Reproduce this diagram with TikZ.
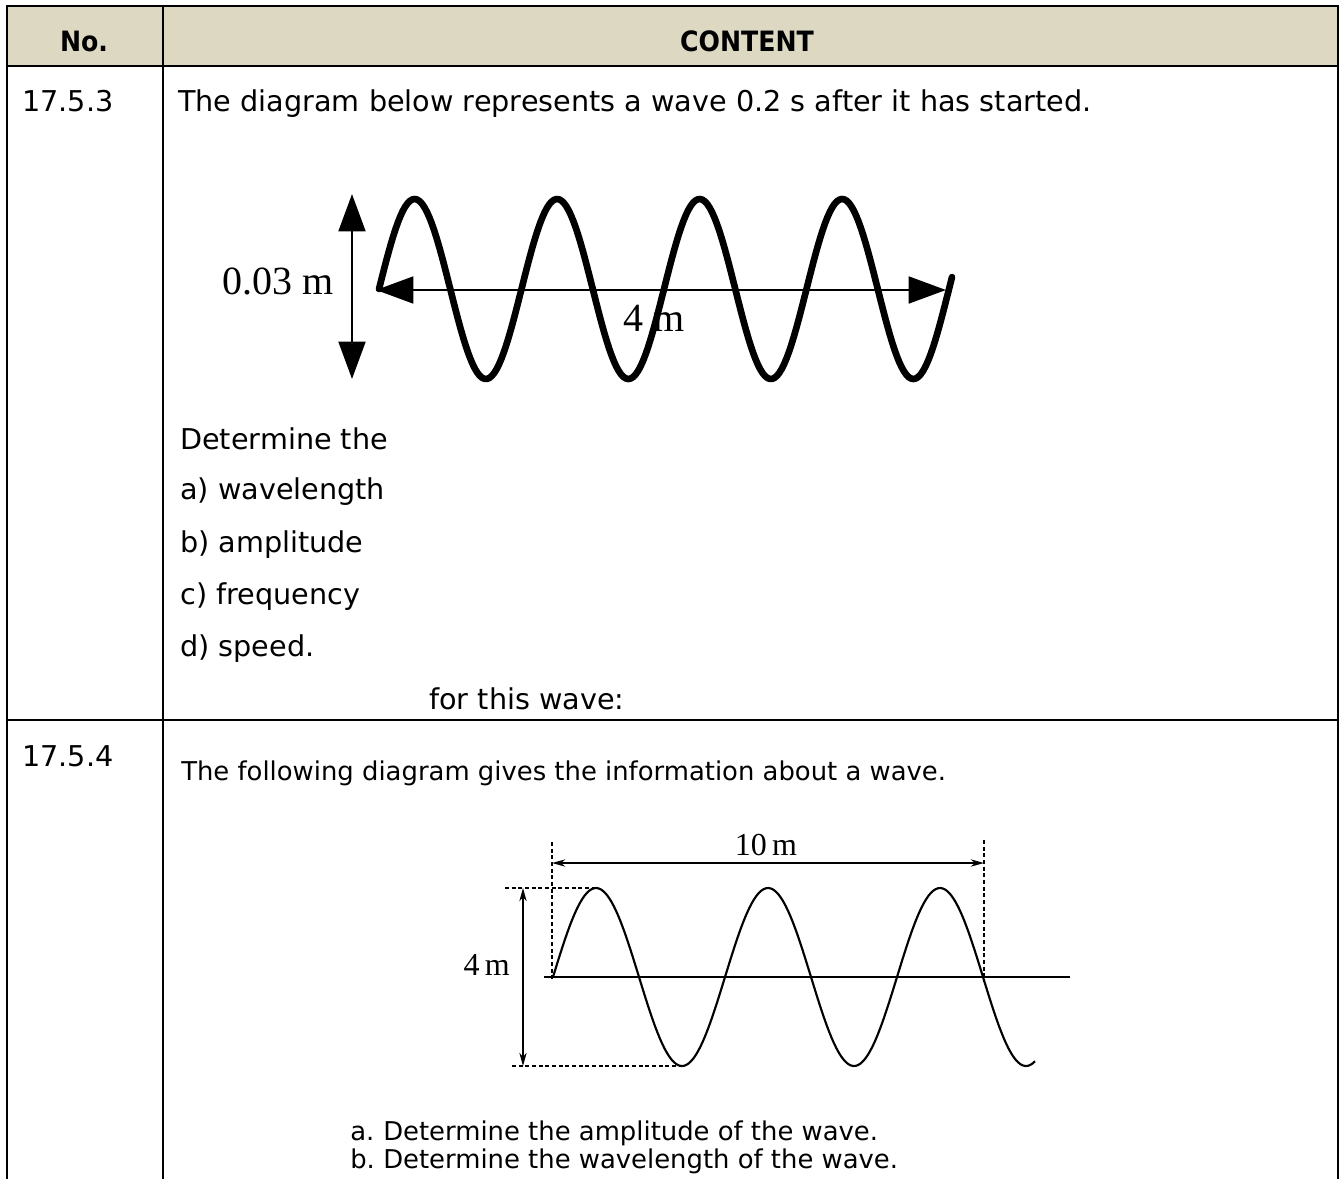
\documentclass[tikz,border=0pt]{standalone}
\usepackage{fontspec}
\setmainfont{DejaVu Sans}[BoldFeatures={FakeStretch=0.9}]
\newfontfamily\wavefont{Liberation Serif}
\usepackage{tikz}
\usetikzlibrary{arrows.meta, calc}

\definecolor{headbeige}{HTML}{DDD8C2}

\tikzset{
  rule/.style={line width=2pt, line cap=rect},
  headtext/.style={inner sep=0pt, font=\fontsize{21}{25}\selectfont\bfseries},
  bodytext/.style={anchor=base west, inner sep=0pt, font=\fontsize{21.5}{26}\selectfont},
  smalltext/.style={anchor=base west, inner sep=0pt, font=\fontsize{19.4}{23}\selectfont},
  bigwave/.style={line width=5pt, line join=round, line cap=round},
  bigarrow/.style={line width=2.2pt, {Triangle[length=28pt, width=20pt]}-{Triangle[length=28pt, width=20pt]}},
  bigunit/.style={inner sep=0pt, font=\wavefont\fontsize{30}{34}\selectfont},
  thinwave/.style={line width=1.6pt},
  thinarrow/.style={line width=1pt, {Stealth[length=10pt, width=5.5pt]}-{Stealth[length=10pt, width=5.5pt]}},
  guide/.style={line width=1pt, dash pattern=on 3pt off 2pt},
  smallunit/.style={inner sep=0pt, font=\wavefont\fontsize{24}{28}\selectfont}
}

\begin{document}
\begin{tikzpicture}[x=0.75pt, y=-0.75pt]
  \useasboundingbox (0,0) rectangle (1341,1178);
  \fill[white] (0,0) rectangle (1341,1178);

  % Table header
  \fill[headbeige] (7,6) rectangle (1338,66);
  \node[headtext] (hdNo) at (84,41) {No.};
  \node[headtext] (hdContent) at (747,41) {CONTENT};

  % Table rules
  \draw[rule] (7,1178) -- (7,6) -- (1338,6) -- (1338,1178);
  \draw[rule] (163,6) -- (163,1178);
  \draw[rule] (7,66) -- (1338,66);
  \draw[rule] (7,720) -- (1338,720);

  % Row 17.5.3
  \node[bodytext] (numA) at (22,111) {17.5.3};
  \node[bodytext] (introA) at (178,111) {The diagram below represents a wave 0.2 s after it has started.};

  % Wave of row 17.5.3
  \draw[bigwave] plot[domain=379:952, samples=240] (\x, {289 - 90*sin(((\x-379)/142.5)*360)});
  \coordinate (ampTop) at (352,194);
  \coordinate (ampBot) at (352,379);
  \draw[bigarrow] (ampTop) -- (ampBot);
  \coordinate (lamLeft) at (376,290);
  \coordinate (lamRight) at (946,290);
  \draw[bigarrow] (lamLeft) -- (lamRight);
  \node[bigunit, anchor=east] (ampLabel) at (334,281) {0.03 m};
  \node[bigunit] (lamLabel) at (654,318) {4 m};

  \node[bodytext] (determine) at (180,449) {Determine the};
  \node[bodytext] (askA) at (180,499) {a) wavelength};
  \node[bodytext] (askB) at (180,552) {b) amplitude};
  \node[bodytext] (askC) at (180,604) {c) frequency};
  \node[bodytext] (askD) at (180,656) {d) speed.};
  \node[bodytext] (forWave) at (429,709) {for this wave:};

  % Row 17.5.4
  \node[bodytext] (numB) at (22,766) {17.5.4};
  \node[smalltext] (introB) at (181,780) {The following diagram gives the information about a wave.};

  % Wave of row 17.5.4
  \draw[thinwave] (544,977) -- (1070,977);
  \draw[thinwave] plot[domain=553:1035, samples=200] (\x, {977 - 89*sin(((\x-553)/172)*360)});
  \draw[guide] (552,842) -- (552,979);
  \draw[guide] (984,840) -- (984,982);
  \draw[guide] (505,888) -- (597,888);
  \draw[guide] (512,1066) -- (682,1066);
  \coordinate (spanLeft) at (552,863);
  \coordinate (spanRight) at (984,863);
  \draw[thinarrow] (spanLeft) -- (spanRight);
  \coordinate (heightTop) at (523,888);
  \coordinate (heightBot) at (523,1066);
  \draw[thinarrow] (heightTop) -- (heightBot);
  \node[smallunit, anchor=base] (spanLabel) at (766,855) {10\,m};
  \node[smallunit, anchor=base east] (heightLabel) at (510,975) {4\,m};

  % Questions of row 17.5.4
  \node[smalltext] (itemA) at (350,1140) {a.};
  \node[smalltext] (textA) at (383,1140) {Determine the amplitude of the wave.};
  \node[smalltext] (itemB) at (350,1168) {b.};
  \node[smalltext] (textB) at (383,1168) {Determine the wavelength of the wave.};
\end{tikzpicture}
\end{document}
